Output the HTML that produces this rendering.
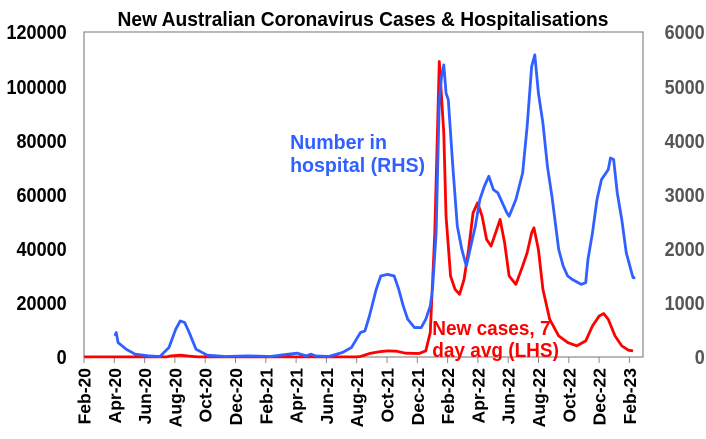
<!DOCTYPE html>
<html><head><meta charset="utf-8"><style>
body{margin:0;background:#fff}
svg{display:block;font-family:"Liberation Sans",Arial,sans-serif;font-weight:bold}
</style></head><body>
<svg width="706" height="439" viewBox="0 0 706 439" xmlns="http://www.w3.org/2000/svg">
<rect width="706" height="439" fill="#fff"/>
<text x="363" y="26" font-size="20" text-anchor="middle" transform="translate(363,0) scale(0.96,1) translate(-363,0)">New Australian Coronavirus Cases &amp; Hospitalisations</text>
<rect x="84" y="32" width="559" height="325" fill="none" stroke="#888" stroke-width="1.2"/>
<g font-size="20" text-anchor="end" transform="scale(0.9,1)">
<text x="74" y="39">120000</text><text x="74" y="94">100000</text><text x="74" y="148">80000</text><text x="74" y="202">60000</text><text x="74" y="256">40000</text><text x="74" y="310">20000</text><text x="74" y="364">0</text>
</g>
<g font-size="20" text-anchor="end" fill="#555" transform="scale(0.9,1)">
<text x="783" y="39">6000</text><text x="783" y="94">5000</text><text x="783" y="148">4000</text><text x="783" y="202">3000</text><text x="783" y="256">2000</text><text x="783" y="310">1000</text><text x="783" y="364">0</text>
</g>
<g stroke="#888" stroke-width="1">
<path d="M84 357v6M114.3 357v6M144.6 357v6M174.9 357v6M205.2 357v6M235.5 357v6M265.8 357v6M296.1 357v6M326.4 357v6M356.7 357v6M387 357v6M417.3 357v6M447.6 357v6M477.9 357v6M508.2 357v6M538.5 357v6M568.8 357v6M599.1 357v6M629.4 357v6"/>
</g>
<g font-size="17.5" text-anchor="end">
<text transform="translate(90.5,368) rotate(-90)">Feb-20</text>
<text transform="translate(120.8,368) rotate(-90)">Apr-20</text>
<text transform="translate(151.1,368) rotate(-90)">Jun-20</text>
<text transform="translate(181.4,368) rotate(-90)">Aug-20</text>
<text transform="translate(211.7,368) rotate(-90)">Oct-20</text>
<text transform="translate(242,368) rotate(-90)">Dec-20</text>
<text transform="translate(272.3,368) rotate(-90)">Feb-21</text>
<text transform="translate(302.6,368) rotate(-90)">Apr-21</text>
<text transform="translate(332.9,368) rotate(-90)">Jun-21</text>
<text transform="translate(363.2,368) rotate(-90)">Aug-21</text>
<text transform="translate(393.5,368) rotate(-90)">Oct-21</text>
<text transform="translate(423.8,368) rotate(-90)">Dec-21</text>
<text transform="translate(454.1,368) rotate(-90)">Feb-22</text>
<text transform="translate(484.4,368) rotate(-90)">Apr-22</text>
<text transform="translate(514.7,368) rotate(-90)">Jun-22</text>
<text transform="translate(545,368) rotate(-90)">Aug-22</text>
<text transform="translate(575.3,368) rotate(-90)">Oct-22</text>
<text transform="translate(605.6,368) rotate(-90)">Dec-22</text>
<text transform="translate(635.9,368) rotate(-90)">Feb-23</text>
</g>
<g transform="scale(0.45055,0.33257)" fill="none" stroke-linejoin="round">
<polyline vector-effect="non-scaling-stroke" stroke="#ff0000" stroke-width="2.8" points="187,1073 370,1073 380,1070 400,1068 420,1071 440,1073 790,1073 800,1072 820,1063 840,1058 860,1055 880,1056 900,1062 930,1063 945,1055 955,1000 965,700 975,185 985,400 990,650 1000,830 1010,870 1020,885 1030,840 1040,750 1050,640 1060,610 1070,650 1080,720 1090,740 1100,700 1110,660 1120,730 1130,830 1145,855 1160,800 1170,760 1180,700 1185,685 1195,750 1205,870 1220,960 1240,1010 1260,1030 1280,1040 1300,1025 1315,980 1330,950 1340,943 1350,960 1365,1010 1380,1040 1395,1053 1405,1055"/>
<polyline vector-effect="non-scaling-stroke" stroke="#3060ff" stroke-width="2.8" points="255,1010 258,1000 262,1030 280,1050 300,1065 330,1070 355,1072 375,1045 390,990 400,965 410,970 420,1000 435,1050 460,1068 500,1072 550,1070 600,1072 640,1065 660,1062 680,1070 690,1065 700,1070 730,1072 760,1060 780,1045 800,1000 810,995 820,950 835,870 845,830 860,825 875,830 885,870 895,920 905,960 920,985 935,985 945,960 955,920 960,870 968,700 975,300 980,230 985,195 990,280 995,300 1005,500 1015,680 1025,750 1035,800 1045,740 1055,680 1065,600 1075,560 1085,530 1095,570 1105,580 1115,610 1125,640 1130,650 1145,600 1160,520 1170,380 1180,200 1187,165 1195,280 1205,370 1215,500 1225,590 1240,750 1250,800 1260,830 1270,840 1290,855 1300,850 1305,780 1315,700 1325,600 1335,540 1350,510 1355,475 1362,480 1370,580 1380,660 1390,760 1400,810 1405,835 1410,835"/>
</g>
<g font-size="20" fill="#3060ff" transform="scale(0.98,1)">
<text x="296" y="149">Number in</text><text x="296" y="172">hospital (RHS)</text>
</g>
<g font-size="20" fill="#ff0000" transform="scale(0.95,1)">
<text x="455" y="335">New cases, 7</text><text x="455" y="357">day avg (LHS)</text>
</g>
</svg>
</body></html>
